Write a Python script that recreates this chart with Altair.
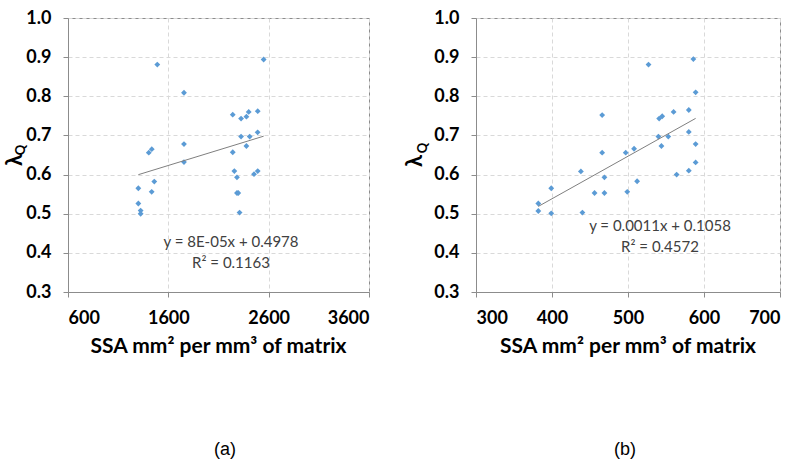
import altair as alt
import pandas as pd

# Panel (a): SSA per matrix volume vs lambda_Q
ssa_a = [1490, 2550, 1756, 2242, 2491, 2401, 2378, 2325, 2490, 2325,
         2411, 1756, 2378, 2242, 1435, 1405, 1756, 2258, 2284, 2454,
         2491, 2284, 2297, 2310, 1301, 1301, 1460, 1434, 1324, 1324]
lam_a = [0.881, 0.894, 0.809, 0.753, 0.762, 0.760, 0.748, 0.743, 0.708, 0.697,
         0.697, 0.678, 0.673, 0.657, 0.665, 0.656, 0.632, 0.609, 0.593, 0.601,
         0.609, 0.553, 0.553, 0.503, 0.565, 0.526, 0.582, 0.556, 0.508, 0.500]

# Panel (b)
ssa_b = [527, 586, 589, 466, 580, 560, 545, 541, 580, 540,
         553, 589, 544, 508, 466, 497, 589, 438, 469, 564,
         580, 512, 456, 469, 499, 399, 382, 382, 399, 440]
lam_b = [0.881, 0.895, 0.810, 0.752, 0.765, 0.760, 0.749, 0.743, 0.709, 0.697,
         0.697, 0.678, 0.673, 0.666, 0.656, 0.656, 0.631, 0.608, 0.593, 0.600,
         0.610, 0.583, 0.553, 0.553, 0.556, 0.565, 0.526, 0.507, 0.501, 0.503]

x_ticks_a = [600, 1600, 2600, 3600]
x_ticks_b = [300, 400, 500, 600, 700]
y_ticks = [0.3, 0.4, 0.5, 0.6, 0.7, 0.8, 0.9, 1.0]

eq_a = ["y = 8E-05x + 0.4978", "R² = 0.1163"]
eq_b = ["y = 0.0011x + 0.1058", "R² = 0.4572"]
x_title = "SSA mm² per mm³ of matrix"
captions = ["(a)", "(b)"]

H = 274
FONT = "Lato"
PT_COLOR = "#5b9bd5"
GRID = "#d9d9d9"
FRAME = "#8c8c8c"


def label(txt, px, py, **kw):
    one = alt.Chart(pd.DataFrame({"t": [txt]}))
    return one.mark_text(**kw).encode(x=alt.value(px), y=alt.value(py), text="t:N")


def panel(xs, ys, W, xdom, xticks, eq, eq_pos, lam_pos, q_pos, cap, cap_x):
    df = pd.DataFrame({"x": xs, "y": ys})
    xenc = alt.X("x:Q", scale=alt.Scale(domain=xdom, nice=False, zero=False),
                 axis=alt.Axis(values=xticks, title=None, format="d",
                               labelPadding=12, tickSize=5, labelOverlap=False))
    yenc = alt.Y("y:Q", scale=alt.Scale(domain=[0.3, 1.0], nice=False, zero=False),
                 axis=alt.Axis(values=y_ticks, title=None, format=".1f",
                               labelPadding=12, tickSize=5, labelOverlap=False))
    base = alt.Chart(df)
    pts = base.mark_point(shape="diamond", filled=True, size=34, color=PT_COLOR,
                          opacity=1).encode(x=xenc, y=yenc)
    line = base.transform_regression("x", "y").mark_line(
        color="#7f7f7f", strokeWidth=1).encode(x=xenc, y=yenc)
    t1 = label(eq[0], eq_pos[0], eq_pos[1], font=FONT, fontSize=15,
               fontWeight="normal", color="#404040")
    t2 = label(eq[1], eq_pos[0], eq_pos[1] + 21, font=FONT, fontSize=15,
               fontWeight="normal", color="#404040")
    lam = label("λ", lam_pos[0], lam_pos[1], font=FONT, fontSize=22,
                fontWeight="bold", angle=270, color="#000000")
    q = label("Q", q_pos[0], q_pos[1], font=FONT, fontSize=13,
              fontWeight="bold", angle=270, color="#000000")
    xt = label(x_title, W / 2, H + 55, font=FONT, fontSize=21,
               fontWeight="bold", color="#000000")
    cp = label(cap, cap_x, 432, font="Liberation Sans", fontSize=18,
               fontWeight="normal", color="#000000")
    return alt.layer(pts, line, t1, t2, lam, q, xt, cp).properties(width=W, height=H)


pa = panel(ssa_a, lam_a, 301, [600, 3600], x_ticks_a, eq_a, (163, 224),
           (-53, 142), (-47, 132), captions[0], 157)
pb = panel(ssa_b, lam_b, 304, [300, 700], x_ticks_b, eq_b, (184, 208),
           (-61, 143), (-53, 130), captions[1], 149)

chart = alt.hconcat(pa, pb, spacing=107, bounds="flush").properties(
    padding={"left": 3, "top": 8, "right": 0, "bottom": 0},
    background="white",
).configure_view(stroke=FRAME, strokeWidth=1).configure_axis(
    labelFont=FONT, labelFontSize=18, labelFontWeight="bold", labelColor="#000000",
    domainColor=FRAME, tickColor=FRAME, gridColor=GRID, gridDash=[4, 3],
    grid=True, domain=True
)

chart.save("out.html", embed_options={"renderer": "svg", "actions": False})
